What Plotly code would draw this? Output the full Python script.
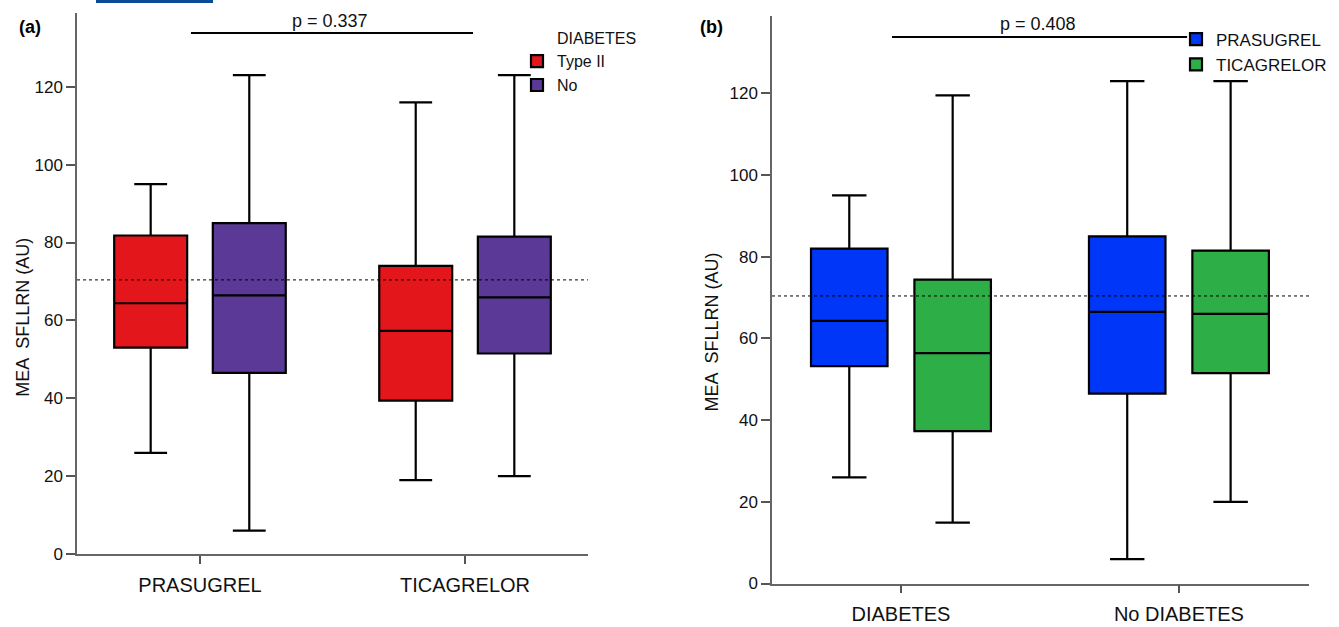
import plotly.graph_objects as go

# ---------------- data ----------------
drugs = ["PRASUGREL", "TICAGRELOR"]
diab_groups = ["DIABETES", "No DIABETES"]

# panel (a): x = drug, series = diabetes status
a_type2_low = [26, 19]
a_type2_q1 = [53, 39.4]
a_type2_med = [64.4, 57.3]
a_type2_q3 = [81.8, 74]
a_type2_up = [95, 116]

a_no_low = [6, 20]
a_no_q1 = [46.5, 51.5]
a_no_med = [66.4, 65.9]
a_no_q3 = [85, 81.5]
a_no_up = [123, 123]

# panel (b): x = diabetes status, series = drug
b_pras_low = [26, 6]
b_pras_q1 = [53.2, 46.5]
b_pras_med = [64.3, 66.5]
b_pras_q3 = [82, 85]
b_pras_up = [95, 123]

b_tica_low = [14.9, 20]
b_tica_q1 = [37.3, 51.5]
b_tica_med = [56.4, 66]
b_tica_q3 = [74.4, 81.5]
b_tica_up = [119.5, 123]

ref_line = 70.4
p_a = "p = 0.337"
p_b = "p = 0.408"
yticks = [0, 20, 40, 60, 80, 100, 120]

FONT = "Liberation Sans, Arial, sans-serif"
RED, PURPLE, BLUE, GREEN = "#E3161B", "#5A3A96", "#0036F7", "#2DAE47"

W, H = 1339, 627
def px(x):
    return x / W
def py(y):
    return (H - y) / H

fig = go.Figure()

def add_box(x, low, q1, med, q3, up, name, color, xa, ya, legend, og):
    fig.add_trace(go.Box(
        x=x, lowerfence=low, q1=q1, median=med, q3=q3, upperfence=up,
        name=name, fillcolor=color, line=dict(color="black", width=2.2),
        whiskerwidth=0.45, boxpoints=False, xaxis=xa, yaxis=ya,
        legend=legend, offsetgroup=og, hoverinfo="skip"))

add_box(drugs, a_type2_low, a_type2_q1, a_type2_med, a_type2_q3, a_type2_up,
        "Type II", RED, "x", "y", "legend", "a1")
add_box(drugs, a_no_low, a_no_q1, a_no_med, a_no_q3, a_no_up,
        "No", PURPLE, "x", "y", "legend", "a2")
add_box(diab_groups, b_pras_low, b_pras_q1, b_pras_med, b_pras_q3, b_pras_up,
        "PRASUGREL", BLUE, "x2", "y2", "legend2", "b1")
add_box(diab_groups, b_tica_low, b_tica_q1, b_tica_med, b_tica_q3, b_tica_up,
        "TICAGRELOR", GREEN, "x2", "y2", "legend2", "b2")

axis_common = dict(showline=True, linecolor="#666", linewidth=1.5, ticks="outside",
                   tickcolor="#555", ticklen=9, tickwidth=1.5, showgrid=False, zeroline=False,
                   tickfont=dict(family=FONT, size=17, color="#111"))
xfont = dict(family=FONT, size=20, color="#111")

fig.update_layout(
    width=W, height=H, margin=dict(l=0, r=0, t=0, b=0),
    paper_bgcolor="white", plot_bgcolor="white",
    boxmode="group", boxgap=0.256, boxgroupgap=0.26,
    font=dict(family=FONT, size=17, color="#111"),
    xaxis=dict(domain=[px(77), px(588)], anchor="y", type="category",
               range=[-0.464, 1.464], **{**axis_common, "tickfont": xfont, "ticklen": 8},
               ticklabelstandoff=4),
    yaxis=dict(domain=[py(563), py(13)], anchor="x", range=[0, 139],
               tickvals=yticks, **axis_common),
    xaxis2=dict(domain=[px(772), px(1309)], anchor="y2", type="category",
                range=[-0.464, 1.468], **{**axis_common, "tickfont": xfont, "ticklen": 8},
                ticklabelstandoff=4),
    yaxis2=dict(domain=[py(593), py(16)], anchor="x2", range=[0, 139],
                tickvals=yticks, **axis_common),
    legend=dict(x=px(517), y=py(45), xanchor="left", yanchor="top",
                bgcolor="rgba(0,0,0,0)", font=dict(family=FONT, size=16),
                tracegroupgap=0),
    legend2=dict(x=px(1176), y=py(22), xanchor="left", yanchor="top",
                 bgcolor="rgba(0,0,0,0)", font=dict(family=FONT, size=17),
                 tracegroupgap=0),
)

shapes = [
    # reference dotted lines
    dict(type="line", xref="x domain", yref="y", x0=0, x1=1, y0=ref_line, y1=ref_line,
         line=dict(color="black", width=1, dash="dot")),
    dict(type="line", xref="x2 domain", yref="y2", x0=0, x1=1, y0=ref_line, y1=ref_line,
         line=dict(color="black", width=1, dash="dot")),
    # p-value bars
    dict(type="line", xref="x domain", yref="y", x0=0.223, x1=0.775, y0=133.8, y1=133.8,
         line=dict(color="black", width=2)),
    dict(type="line", xref="x2 domain", yref="y2", x0=0.2235, x1=0.773, y0=133.8, y1=133.8,
         line=dict(color="black", width=2)),
    # blue bar artefact at top
    dict(type="rect", xref="paper", yref="paper", x0=px(96), x1=px(213), y0=py(3), y1=1,
         line=dict(width=0), fillcolor="#0B4A96"),
]
fig.update_layout(shapes=shapes)

ann = [
    dict(text=p_a, x=px(330), y=py(21), xref="paper", yref="paper", showarrow=False,
         font=dict(size=18), xanchor="center", yanchor="middle"),
    dict(text=p_b, x=px(1038), y=py(24), xref="paper", yref="paper", showarrow=False,
         font=dict(size=18), xanchor="center", yanchor="middle"),
    dict(text="<b>(a)</b>", x=px(30), y=py(27), xref="paper", yref="paper", showarrow=False,
         font=dict(size=18, color="black"), xanchor="center", yanchor="middle"),
    dict(text="<b>(b)</b>", x=px(711), y=py(27), xref="paper", yref="paper", showarrow=False,
         font=dict(size=18, color="black"), xanchor="center", yanchor="middle"),
    dict(text="MEA  SFLLRN (AU)", x=px(23), y=py(323), xref="paper", yref="paper",
         showarrow=False, textangle=-90, font=dict(size=18), xanchor="center", yanchor="middle"),
    dict(text="MEA  SFLLRN (AU)", x=px(712), y=py(338), xref="paper", yref="paper",
         showarrow=False, textangle=-90, font=dict(size=18), xanchor="center", yanchor="middle"),
    dict(text="DIABETES", x=px(555), y=py(39), xref="paper", yref="paper", showarrow=False,
         font=dict(size=16), xanchor="left", yanchor="middle"),
]
fig.update_layout(annotations=ann)

fig.write_html("out.html", config={"displayModeBar": False},
               post_script="document.body.style.margin='0';document.body.style.overflow='hidden';")
